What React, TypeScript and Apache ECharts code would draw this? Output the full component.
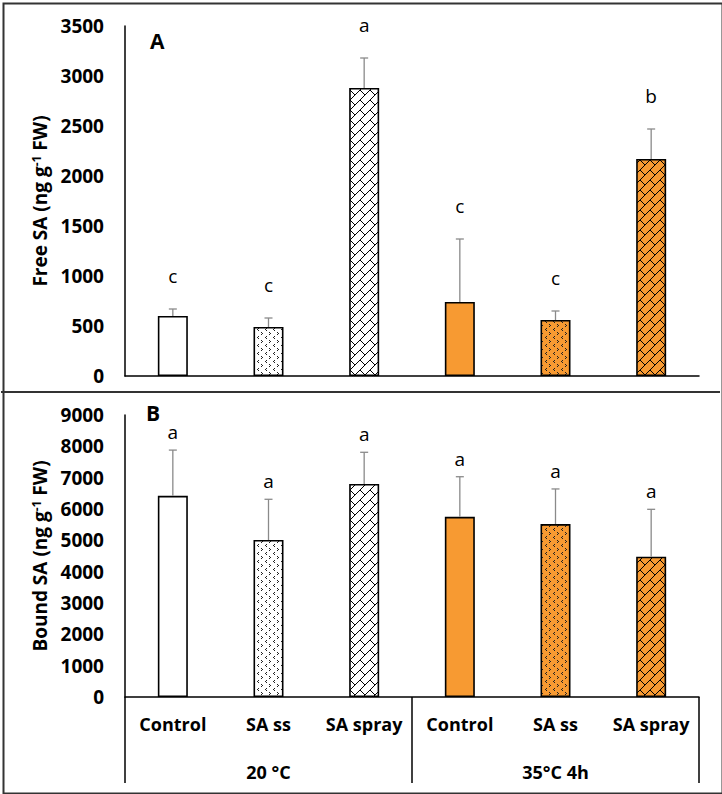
import React, { useEffect, useRef } from 'react';
import * as echarts from 'echarts';

const categories = ['Control', 'SA ss', 'SA spray', 'Control', 'SA ss', 'SA spray'];
const groups = ['20 °C', '35°C 4h'];

const freeMean = [600, 490, 2880, 740, 560, 2170];
const freeSd = [70, 90, 300, 630, 90, 300];
const freeLetters = ['c', 'c', 'a', 'c', 'c', 'b'];

const boundMean = [6420, 5010, 6800, 5750, 5520, 4480];
const boundSd = [1460, 1300, 1010, 1280, 1120, 1510];
const boundLetters = ['a', 'a', 'a', 'a', 'a', 'a'];

const FONT = '"Open Sans", "Noto Sans", sans-serif';
const ORANGE = '#F79A32';

function makeTile(kind: string, bg: string) {
  const n = kind === 'weave' ? 10 : 8;
  const c = document.createElement('canvas');
  c.width = n;
  c.height = n;
  const ctx = c.getContext('2d')!;
  ctx.fillStyle = bg;
  ctx.fillRect(0, 0, n, n);
  ctx.fillStyle = kind === 'weave' ? '#000' : '#222';
  const px = (x: number, y: number) => ctx.fillRect(x, y, 1, 1);
  if (kind === 'weave') {
    for (let i = 0; i < n; i++) px(i, n - 1 - i);
    for (let i = 0; i < 5; i++) px(i, i);
  } else if (kind === 'divot') {
    px(2, 0); px(1, 1); px(2, 2);
    px(5, 4); px(6, 5); px(5, 6);
  }
  return { image: c.toDataURL(), repeat: 'repeat', imageWidth: n, imageHeight: n };
}

function errorSeries(mean: number[], sd: number[], letters: string[], idx: number, gap: number) {
  return {
    type: 'custom',
    xAxisIndex: idx,
    yAxisIndex: idx,
    clip: false,
    silent: true,
    z: 5,
    data: mean.map((m, i) => [i, m, m + sd[i]]),
    renderItem: (params: any, api: any) => {
      const x = api.value(0);
      const p0 = api.coord([x, api.value(1)]);
      const p1 = api.coord([x, api.value(2)]);
      const st = { stroke: '#8a8a8a', lineWidth: 1.3 };
      return {
        type: 'group',
        children: [
          { type: 'line', shape: { x1: p0[0], y1: p0[1], x2: p1[0], y2: p1[1] }, style: st },
          { type: 'line', shape: { x1: p1[0] - 4, y1: p1[1], x2: p1[0] + 4, y2: p1[1] }, style: st },
          {
            type: 'text',
            x: p1[0],
            y: p1[1] - gap,
            style: {
              text: letters[params.dataIndex],
              align: 'center',
              verticalAlign: 'middle',
              font: `19px ${FONT}`,
              fill: '#000',
            },
          },
        ],
      };
    },
  };
}

export default function App() {
  const ref = useRef<HTMLDivElement>(null);
  useEffect(() => {
    if (!ref.current) return;
    const chart = echarts.init(ref.current, null, { renderer: 'svg' });
    const fills = [
      '#fff',
      makeTile('divot', '#fff'),
      makeTile('weave', '#fff'),
      ORANGE,
      makeTile('divot', ORANGE),
      makeTile('weave', ORANGE),
    ];
    const axisLine = { show: true, lineStyle: { color: '#000', width: 1.5 } };
    const tickLabel = {
      color: '#000', fontFamily: FONT, fontWeight: 'bold', fontSize: 19, margin: 21,
      formatter: (v: number) => String(v),
    };
    const nameStyle = {
      rich: {
        b: { fontFamily: FONT, fontWeight: 'bold', fontSize: 19, color: '#000' },
        s: { fontFamily: FONT, fontWeight: 'bold', fontSize: 12, color: '#000', verticalAlign: 'top' },
      },
    };
    const catLabel = { interval: 0, color: '#000', fontFamily: FONT, fontWeight: 'bold', fontSize: 18 };
    chart.setOption({
      animation: false,
      backgroundColor: '#fff',
      grid: [
        { left: 125, right: 23, top: 26, height: 350 },
        { left: 125, right: 23, top: 415, height: 282 },
      ],
      xAxis: [
        {
          gridIndex: 0, type: 'category', data: categories,
          axisLine, axisTick: { show: false }, axisLabel: { show: false },
        },
        {
          gridIndex: 1, type: 'category', data: categories,
          axisLine, axisTick: { show: false },
          axisLabel: { ...catLabel, margin: 18 },
        },
        {
          gridIndex: 1, type: 'category', data: groups, position: 'bottom',
          axisLine: { show: false },
          axisTick: { show: true, length: 86, lineStyle: { color: '#000', width: 1.5 } },
          axisLabel: { ...catLabel, margin: 66 },
        },
      ],
      yAxis: [
        {
          gridIndex: 0, type: 'value', min: 0, max: 3500, interval: 500,
          axisLine, axisTick: { show: false }, splitLine: { show: false }, axisLabel: tickLabel,
          name: '{b|Free SA (ng g}{s|-1}{b| FW)}', nameLocation: 'middle', nameRotate: 90, nameGap: 70,
          nameTextStyle: nameStyle,
        },
        {
          gridIndex: 1, type: 'value', min: 0, max: 9000, interval: 1000,
          axisLine, axisTick: { show: false }, splitLine: { show: false }, axisLabel: tickLabel,
          name: '{b|Bound SA (ng g}{s|-1}{b| FW)}', nameLocation: 'middle', nameRotate: 90, nameGap: 70,
          nameTextStyle: nameStyle,
        },
      ],
      series: [
        {
          type: 'bar', xAxisIndex: 0, yAxisIndex: 0, barWidth: 30, silent: true,
          itemStyle: { borderColor: '#000', borderWidth: 1.6 },
          data: freeMean.map((v, i) => ({ value: v, itemStyle: { color: fills[i] } })),
        },
        {
          type: 'bar', xAxisIndex: 1, yAxisIndex: 1, barWidth: 30, silent: true,
          itemStyle: { borderColor: '#000', borderWidth: 1.6 },
          data: boundMean.map((v, i) => ({ value: v, itemStyle: { color: fills[i] } })),
        },
        errorSeries(freeMean, freeSd, freeLetters, 0, 33),
        errorSeries(boundMean, boundSd, boundLetters, 1, 18),
      ],
      graphic: [
        {
          type: 'rect', left: 1, top: 1, silent: true,
          shape: { width: 719, height: 790 },
          style: { fill: 'none', stroke: '#333', lineWidth: 2 },
        },
        {
          type: 'line', silent: true,
          shape: { x1: 1, y1: 392, x2: 720, y2: 392 },
          style: { stroke: '#333', lineWidth: 2 },
        },
        {
          type: 'text', left: 150, top: 30,
          style: { text: 'A', font: `bold 21px ${FONT}`, fill: '#000' },
        },
        {
          type: 'text', left: 146, top: 402,
          style: { text: 'B', font: `bold 21px ${FONT}`, fill: '#000' },
        },
      ],
    });
    return () => chart.dispose();
  }, []);
  return <div ref={ref} style={{ position: 'absolute', left: 0, top: 0, width: 722, height: 794 }} />;
}
